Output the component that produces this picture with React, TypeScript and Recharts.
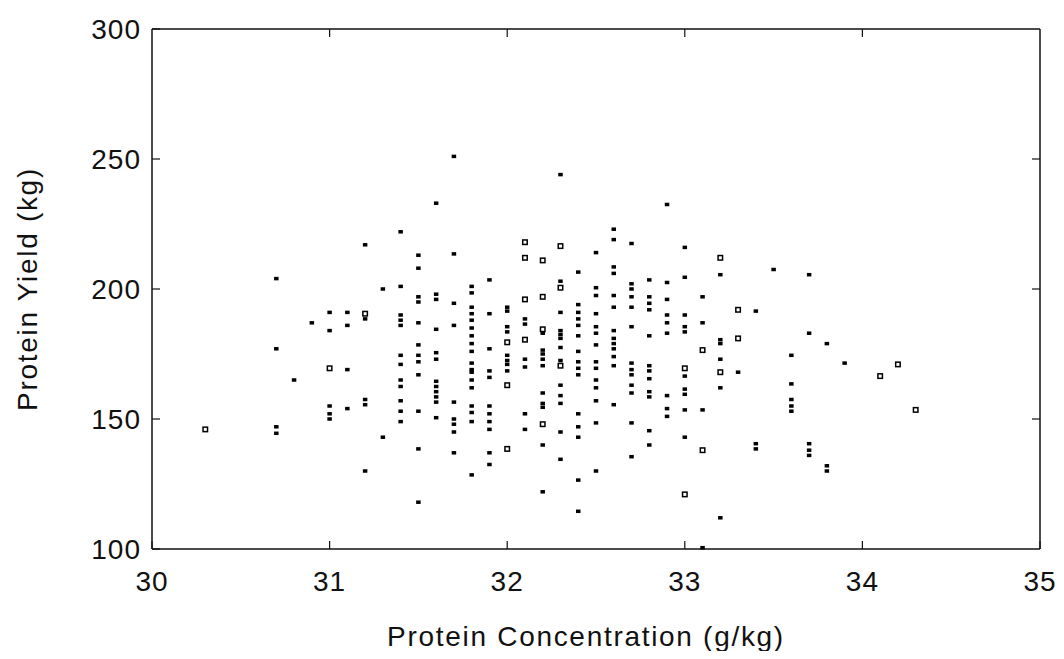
import { ScatterChart, Scatter, XAxis, YAxis, ReferenceLine } from "recharts";

// protein concentration columns (g/kg), one entry per 0.1 step that holds marks
const concentration = [
  30.3, 30.7, 30.8, 30.9, 31.0, 31.1, 31.2, 31.3, 31.4, 31.5, 31.6, 31.7, 31.8, 31.9,
  32.0, 32.1, 32.2, 32.3, 32.4, 32.5, 32.6, 32.7, 32.8, 32.9, 33.0, 33.1, 33.2, 33.3,
  33.4, 33.5, 33.6, 33.7, 33.8, 33.9, 34.1, 34.2, 34.3,
];

// protein yield (kg), solid marks, same order as concentration
const yieldSolid: number[][] = [
  [],
  [204, 177, 147, 144.5],
  [165],
  [187],
  [191, 184, 155, 152, 150],
  [191, 186, 169, 154],
  [217, 188.5, 157.5, 155.5, 130],
  [200, 143],
  [222, 201, 190, 188, 186, 174.5, 171, 165, 162.5, 157, 153, 149],
  [213, 208, 197, 195, 187, 178.5, 174.5, 172, 167, 153, 138.5, 118],
  [233, 198, 196, 184.5, 175.5, 173, 164.5, 162.5, 160.5, 158.5, 156.5, 150.5],
  [251, 213.5, 194.5, 186, 156.5, 150, 148, 145, 137],
  [201, 198.5, 193, 190.5, 188, 185, 182, 179, 176, 171.5, 169, 168, 165, 162, 155, 152.5, 149, 128.5],
  [203.5, 190.5, 177, 168.5, 166, 155, 152, 149, 146, 137, 132.5],
  [193, 191.5, 185.5, 183.5, 174.5, 172.5, 171, 168.5],
  [188.5, 186.5, 173, 170, 152, 146],
  [183, 176.5, 175, 173, 170.5, 160, 156, 154.5, 140, 122],
  [244, 203, 191, 184, 182.5, 181, 177.5, 172.5, 163, 159, 156, 145, 134.5],
  [206.5, 194, 191, 188.5, 186, 182, 176, 172, 169.5, 167, 152, 147, 143, 126.5, 114.5],
  [214, 200.5, 197.5, 190.5, 185.5, 183, 178.5, 172, 169.5, 165, 162, 157, 148.5, 130],
  [223, 219, 208.5, 206, 197.5, 193, 184, 181, 179, 177, 174, 170.5, 155.5],
  [217.5, 202, 200, 197, 193, 185.5, 171.5, 169, 167, 163, 160, 148.5, 135.5],
  [203.5, 197, 194.5, 192, 182, 170.5, 168.5, 165.5, 160.5, 158.5, 145.5, 140],
  [232.5, 202.5, 196, 190, 187, 183, 159, 154, 151],
  [216, 204.5, 190, 185.5, 183.5, 166.5, 161.5, 159.5, 153.5, 143],
  [197, 187, 153.5, 100.5],
  [205.5, 180.5, 179, 173, 162, 112],
  [168],
  [191.5, 140.5, 138.5],
  [207.5],
  [174.5, 163.5, 157.5, 155, 153],
  [205.5, 183, 140.5, 138, 136],
  [179, 132, 130],
  [171.5],
  [],
  [],
  [],
];

// protein yield (kg), open marks, same order as concentration
const yieldOpen: number[][] = [
  [146],
  [], [], [],
  [169.5],
  [],
  [190.5],
  [], [], [], [], [], [], [],
  [179.5, 163, 138.5],
  [218, 212, 196, 180.5],
  [211, 197, 184.5, 148],
  [216.5, 200.5, 170.5],
  [], [], [], [], [], [],
  [169.5, 121],
  [176.5, 138],
  [212, 168],
  [192, 181],
  [], [], [], [], [], [],
  [166.5],
  [171],
  [153.5],
];

const xTicks = [30, 31, 32, 33, 34, 35];
const yTicks = [100, 150, 200, 250, 300];

const solidPoints = concentration.flatMap((c, i) =>
  yieldSolid[i].map((y) => ({ conc: c, yield: y }))
);
const openPoints = concentration.flatMap((c, i) =>
  yieldOpen[i].map((y) => ({ conc: c, yield: y }))
);

const FONT = "'Liberation Sans', Arial, sans-serif";
const INK = "#111";

const SolidMark = (props: any) => (
  <rect x={props.cx - 2.25} y={props.cy - 1.75} width={4.5} height={3.5} fill="#000" />
);

const OpenMark = (props: any) => (
  <rect
    x={props.cx - 2.25}
    y={props.cy - 2.25}
    width={4.5}
    height={4.5}
    fill="#fff"
    stroke="#000"
    strokeWidth={1.5}
  />
);

const XTick = ({ x, y, payload }: any) => (
  <g>
    <line x1={x} x2={x} y1={y} y2={y - 8} stroke={INK} strokeWidth={1.2} />
    <text
      x={x}
      y={y + 42}
      textAnchor="middle"
      fontSize={28}
      letterSpacing={1}
      fontFamily={FONT}
      fill={INK}
    >
      {payload.value}
    </text>
  </g>
);

const YTick = ({ x, y, payload }: any) => (
  <g>
    <line x1={x} x2={x + 8} y1={y} y2={y} stroke={INK} strokeWidth={1.2} />
    <text
      x={x - 11}
      y={y + 10}
      textAnchor="end"
      fontSize={28}
      letterSpacing={1}
      fontFamily={FONT}
      fill={INK}
    >
      {payload.value}
    </text>
  </g>
);

const App = () => {
  return (
    <ScatterChart width={1048} height={643} margin={{ top: 21, right: 16, bottom: 0, left: 0 }}>
      <XAxis
        type="number"
        dataKey="conc"
        domain={[30, 35]}
        ticks={xTicks}
        height={102}
        tickSize={0}
        tickMargin={0}
        tickLine={false}
        tick={<XTick />}
        axisLine={{ stroke: INK, strokeWidth: 1.5 }}
        label={{
          value: "Protein Concentration (g/kg)",
          position: "insideBottom",
          offset: 5,
          dx: -10,
          style: { fontSize: 28, fontFamily: FONT, fill: INK, letterSpacing: 1.7 },
        }}
      />
      <YAxis
        type="number"
        dataKey="yield"
        domain={[100, 300]}
        ticks={yTicks}
        width={144}
        tickSize={0}
        tickMargin={0}
        tickLine={false}
        tick={<YTick />}
        axisLine={{ stroke: INK, strokeWidth: 1.5 }}
        label={{
          value: "Protein Yield (kg)",
          angle: -90,
          position: "insideLeft",
          offset: 19,
          style: {
            fontSize: 28,
            fontFamily: FONT,
            fill: INK,
            textAnchor: "middle",
            letterSpacing: 1.7,
          },
        }}
      />
      <ReferenceLine y={300} stroke={INK} strokeWidth={1.5} />
      <ReferenceLine x={35} stroke={INK} strokeWidth={1.5} />
      {xTicks.slice(1, -1).map((t) => (
        <ReferenceLine
          key={`tx${t}`}
          segment={[{ x: t, y: 300 }, { x: t, y: 296.9 }]}
          stroke={INK}
          strokeWidth={1.2}
        />
      ))}
      {yTicks.slice(1, -1).map((t) => (
        <ReferenceLine
          key={`ty${t}`}
          segment={[{ x: 35, y: t }, { x: 34.955, y: t }]}
          stroke={INK}
          strokeWidth={1.2}
        />
      ))}
      <Scatter data={solidPoints} shape={SolidMark} isAnimationActive={false} />
      <Scatter data={openPoints} shape={OpenMark} isAnimationActive={false} />
    </ScatterChart>
  );
};

export default App;
